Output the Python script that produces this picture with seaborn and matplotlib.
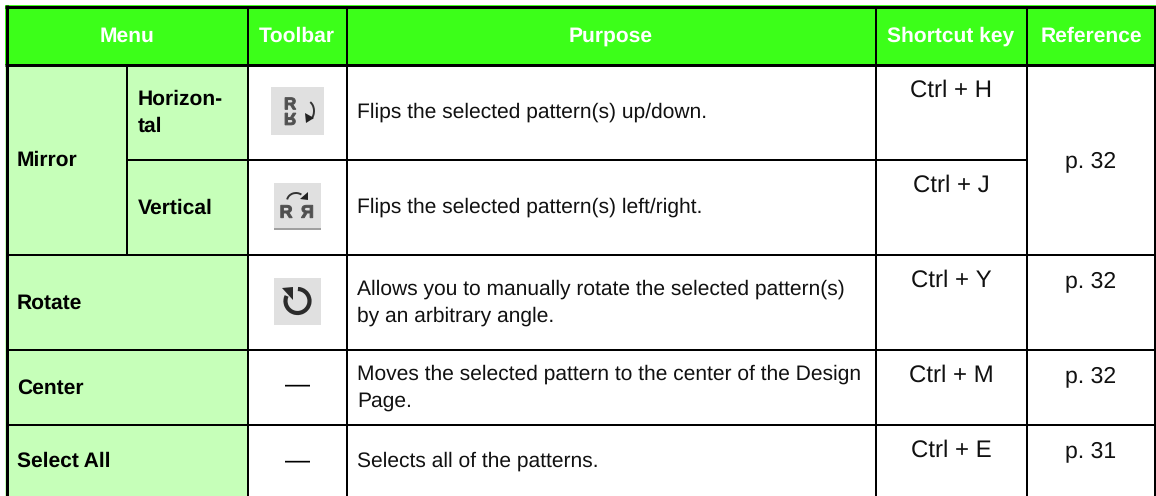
from __future__ import annotations

import numpy as np
import matplotlib
matplotlib.use("Agg")
import matplotlib.pyplot as plt
import seaborn as sns
from matplotlib.colors import ListedColormap
from matplotlib.font_manager import FontProperties
from matplotlib.patches import Arc, PathPatch, Polygon, Rectangle
from matplotlib.textpath import TextPath
from matplotlib.transforms import Affine2D

# table content
header_labels = ["Menu", "Toolbar", "Purpose", "Shortcut key", "Reference"]
menu_labels = ["Mirror", "Horizon-", "tal", "Vertical", "Rotate", "Center", "Select All"]
purpose_lines = [
    "Flips the selected pattern(s) up/down.",
    "Flips the selected pattern(s) left/right.",
    "Allows you to manually rotate the selected pattern(s)",
    "by an arbitrary angle.",
    "Moves the selected pattern to the center of the Design",
    "Page.",
    "Selects all of the patterns.",
]
shortcut_labels = ["Ctrl + H", "Ctrl + J", "Ctrl + Y", "Ctrl + M", "Ctrl + E"]
reference_labels = ["p. 32", "p. 32", "p. 32", "p. 31"]
toolbar_dashes = ["—", "—"]

# layout, in image pixels
WIDTH, HEIGHT = 1156, 496
COL_EDGES = [6.5, 127, 248, 346.5, 876, 1027, 1155]
ROW_EDGES = [6.5, 64.5, 160, 255, 349.5, 424.5]
HEADER_X = [127, 297, 611, 951, 1091]
MENU_POS = [(17, 165.5), (138, 104.5), (138, 131.5), (138, 213.5), (17, 308.5), (17, 393.5), (17, 466.5)]
PURPOSE_Y = [117.5, 212.5, 294.5, 321.5, 379.5, 406.5, 466.5]
SHORTCUT_Y = [97, 192, 287, 382, 457]
REFERENCE_Y = [167, 287, 382, 457]
DASH_Y = [392, 467]

HEAD_SIZE = 15.2
MENU_SIZE = 15.2
BODY_SIZE = 15.2
KEY_SIZE = 17
PAGE_SIZE = 16.4

GREEN = "#3CFF19"
PALE = "#C6FFB9"
ICON_BG = "#E0E0E0"
ICON_INK = "#505050"
PX = 72 / 100  # one pixel in points


def fill_codes() -> np.ndarray:
    """Cell background per pixel: 0 white, 1 header green, 2 menu green."""
    codes = np.zeros((HEIGHT, WIDTH), dtype=int)
    codes[5:65, 5:WIDTH] = 1
    codes[65:, 5:248] = 2
    return codes


def draw_grid(ax) -> None:
    ax.hlines(ROW_EDGES[0], 5, WIDTH, color="black", lw=3 * PX)
    ax.hlines(ROW_EDGES[1], 5, WIDTH, color="black", lw=3 * PX)
    ax.hlines(ROW_EDGES[2], 127, 1027, color="black", lw=2 * PX)
    ax.hlines(ROW_EDGES[3:], 8, WIDTH, color="black", lw=2 * PX)
    ax.vlines(COL_EDGES[0], 5, HEIGHT, color="black", lw=3 * PX)
    ax.vlines(COL_EDGES[1], 65, 255, color="black", lw=2 * PX)
    ax.vlines(COL_EDGES[2:], 8, HEIGHT, color="black", lw=2 * PX)


def draw_glyph(ax, x, y, size, flip_x=False, flip_y=False) -> None:
    """Put a bold R on the axes, mirrored if asked; (x, y) is the glyph centre."""
    path = TextPath((0, 0), "R", size=size, prop=FontProperties(family="Liberation Sans", weight="bold"))
    box = path.get_extents()
    cx, cy = (box.x0 + box.x1) / 2, (box.y0 + box.y1) / 2
    # the y axis points down, so an upright glyph needs a y flip
    trans = Affine2D().translate(-cx, -cy).scale(-1 if flip_x else 1, 1 if flip_y else -1).translate(x, y)
    ax.add_patch(PathPatch(path, transform=trans + ax.transData, fc=ICON_INK, ec=ICON_INK, lw=0.7))


def draw_icons(ax) -> None:
    # flip up/down
    ax.add_patch(Rectangle((271, 87), 53, 48, fc=ICON_BG, ec="none"))
    draw_glyph(ax, 290.5, 103.5, 17)
    draw_glyph(ax, 290.5, 119, 17, flip_y=True)
    ax.add_patch(Arc((307, 111), 14, 20, theta1=-70, theta2=60, color="#333333", lw=1.4))
    ax.add_patch(Polygon([(306, 123), (305, 113), (314, 118)], fc="#222222", ec="none"))

    # flip left/right
    ax.add_patch(Rectangle((274, 183), 47, 45, fc=ICON_BG, ec="none"))
    ax.add_patch(Rectangle((274, 228), 47, 2, fc="#A0A0A0", ec="none"))
    draw_glyph(ax, 286.5, 211.5, 18)
    draw_glyph(ax, 307, 211.5, 18, flip_x=True)
    ax.add_patch(Arc((296, 201), 18, 16, theta1=190, theta2=310, color="#333333", lw=1.4))
    ax.add_patch(Polygon([(300, 199), (308, 192), (308, 200)], fc="#222222", ec="none"))

    # rotate
    ax.add_patch(Rectangle((274, 278), 47, 47, fc=ICON_BG, ec="none"))
    ax.add_patch(Arc((297.5, 301), 24, 24, theta1=-88, theta2=205, color="#2B2B2B", lw=3))
    ax.add_patch(Polygon([(282, 288), (293, 287), (293, 300)], fc="#2B2B2B", ec="none"))


def draw_text(ax) -> None:
    for label, x in zip(header_labels, HEADER_X):
        ax.text(x, 42, label, ha="center", va="baseline", color="white", fontsize=HEAD_SIZE, fontweight="bold")
    for label, (x, y) in zip(menu_labels, MENU_POS):
        ax.text(x, y, label, ha="left", va="baseline", color="black", fontsize=MENU_SIZE, fontweight="bold")
    for line, y in zip(purpose_lines, PURPOSE_Y):
        ax.text(357, y, line, ha="left", va="baseline", color="#111111", fontsize=BODY_SIZE)
    for label, y in zip(shortcut_labels, SHORTCUT_Y):
        ax.text(951, y, label, ha="center", va="baseline", color="#111111", fontsize=KEY_SIZE)
    for label, y in zip(reference_labels, REFERENCE_Y):
        ax.text(1091, y, label, ha="center", va="baseline", color="#111111", fontsize=PAGE_SIZE)
    for label, y in zip(toolbar_dashes, DASH_Y):
        ax.text(297.5, y, label, ha="center", va="baseline", color="black", fontsize=18)


def main() -> None:
    sns.set_theme(style="white")
    plt.rcParams["font.family"] = ["Liberation Sans", "DejaVu Sans"]
    plt.rcParams["text.hinting"] = "no_hinting"
    plt.rcParams["text.hinting_factor"] = 1

    fig = plt.figure(figsize=(WIDTH / 100, HEIGHT / 100), dpi=100)
    ax = fig.add_axes([0, 0, 1, 1])
    sns.heatmap(
        fill_codes(),
        cmap=ListedColormap(["white", GREEN, PALE]),
        vmin=0,
        vmax=2,
        cbar=False,
        xticklabels=False,
        yticklabels=False,
        ax=ax,
    )
    draw_grid(ax)
    draw_icons(ax)
    draw_text(ax)
    ax.set_xlim(0, WIDTH)
    ax.set_ylim(HEIGHT, 0)
    ax.set_axis_off()
    fig.savefig("out.png", dpi=100)


if __name__ == "__main__":
    main()
